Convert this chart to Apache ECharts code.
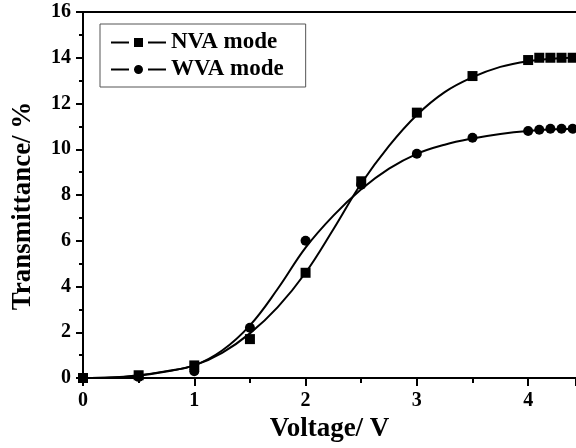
<!DOCTYPE html>
<html>
<head>
<meta charset="utf-8">
<style>
html, body { margin: 0; padding: 0; background: #fff; }
#chart { width: 576px; height: 448px; }
</style>
<script src="https://cdn.jsdelivr.net/npm/echarts@6/dist/echarts.min.js"></script>
</head>
<body>
<div id="chart"></div>
<script>
// measured points
var voltage = [0, 0.5, 1, 1.5, 2, 2.5, 3, 3.5, 4, 4.1, 4.2, 4.3, 4.4];
var nvaT = [0, 0.12, 0.55, 1.7, 4.6, 8.6, 11.6, 13.2, 13.9, 14.0, 14.0, 14.0, 14.0];
var wvaT = [0, 0.05, 0.3, 2.2, 6.0, 8.45, 9.8, 10.5, 10.8, 10.85, 10.9, 10.9, 10.9];

// fitted curves
var fitV = [0, 0.25, 0.5, 0.75, 1, 1.25, 1.5, 1.75, 2, 2.25, 2.5, 2.75, 3, 3.25, 3.5, 3.75, 4, 4.25, 4.5];
var nvaFit = [0, 0.02, 0.1, 0.28, 0.55, 1.1, 1.95, 3.1, 4.6, 6.5, 8.5, 10.15, 11.5, 12.5, 13.15, 13.6, 13.85, 13.97, 14.02];
var wvaFit = [0, 0.02, 0.12, 0.3, 0.55, 1.2, 2.3, 3.9, 5.7, 7.1, 8.25, 9.15, 9.8, 10.2, 10.47, 10.67, 10.8, 10.87, 10.9];

var names = ['NVA mode', 'WVA mode'];

function pairs(xs, ys) {
	return xs.map(function (x, i) { return [x, ys[i]]; });
}

var serif = '"Liberation Serif", "Times New Roman", serif';
var iconSquare = 'path://M0,3.5h18v2h-18z M23,0h9v9h-9z M37,3.5h18v2h-18z';
var iconCircle = 'path://M0,3.5h18v2h-18z M23,4.5a4.5,4.5 0 1,0 9,0a4.5,4.5 0 1,0 -9,0z M37,3.5h18v2h-18z';

var chart = echarts.init(document.getElementById('chart'));

var option = {
	animation: false,
	backgroundColor: '#fff',
	grid: {
		left: 83,
		right: 0,
		top: 12,
		bottom: 68
	},
	legend: {
		left: 100,
		top: 24,
		orient: 'vertical',
		itemWidth: 55,
		itemHeight: 9,
		itemGap: 4,
		padding: [7, 22, 6, 11],
		borderColor: '#555',
		borderWidth: 1,
		itemStyle: { color: '#000', opacity: 1 },
		textStyle: {
			fontFamily: serif,
			fontWeight: 'bold',
			fontSize: 23,
			color: '#000'
		},
		data: [
			{ name: names[0], icon: iconSquare },
			{ name: names[1], icon: iconCircle }
		]
	},
	xAxis: [{
		type: 'value',
		min: 0,
		max: 4.43,
		interval: 1,
		position: 'bottom',
		name: 'Voltage/ V',
		nameLocation: 'middle',
		nameGap: 38,
		nameTextStyle: {
			fontFamily: serif,
			fontWeight: 'bold',
			fontSize: 27,
			color: '#000'
		},
		axisLine: { lineStyle: { color: '#000', width: 2 } },
		axisTick: { inside: false, length: 8, lineStyle: { color: '#000', width: 2 } },
		minorTick: { show: true, splitNumber: 2, length: 5, lineStyle: { color: '#000', width: 2 } },
		axisLabel: {
			margin: 13,
			showMaxLabel: false,
			fontFamily: serif,
			fontWeight: 'bold',
			fontSize: 20,
			color: '#000'
		},
		splitLine: { show: false }
	}, {
		// top frame line
		type: 'value',
		min: 0,
		max: 4.43,
		position: 'top',
		axisLine: { onZero: false, lineStyle: { color: '#000', width: 2 } },
		axisTick: { show: false },
		axisLabel: { show: false },
		splitLine: { show: false }
	}],
	yAxis: {
		type: 'value',
		min: 0,
		max: 16,
		interval: 2,
		name: 'Transmittance/ %',
		nameLocation: 'middle',
		nameGap: 46,
		nameTextStyle: {
			fontFamily: serif,
			fontWeight: 'bold',
			fontSize: 27,
			color: '#000',
			padding: [0, 22, 0, 0]
		},
		axisLine: { show: true, lineStyle: { color: '#000', width: 2 } },
		axisTick: { inside: false, length: 7, lineStyle: { color: '#000', width: 2 } },
		minorTick: { show: true, splitNumber: 2, length: 4, lineStyle: { color: '#000', width: 2 } },
		axisLabel: {
			margin: 12,
			fontFamily: serif,
			fontWeight: 'bold',
			fontSize: 20,
			color: '#000'
		},
		splitLine: { show: false }
	},
	series: [{
		name: names[0],
		type: 'scatter',
		symbol: 'rect',
		symbolSize: 10,
		itemStyle: { color: '#000', opacity: 1 },
		data: pairs(voltage, nvaT),
		z: 3
	}, {
		name: names[1],
		type: 'scatter',
		symbol: 'circle',
		symbolSize: 10,
		itemStyle: { color: '#000', opacity: 1 },
		data: pairs(voltage, wvaT),
		z: 3
	}, {
		name: 'NVA fit',
		type: 'line',
		smooth: 0.4,
		showSymbol: false,
		lineStyle: { color: '#000', width: 2 },
		itemStyle: { color: '#000' },
		data: pairs(fitV, nvaFit)
	}, {
		name: 'WVA fit',
		type: 'line',
		smooth: 0.4,
		showSymbol: false,
		lineStyle: { color: '#000', width: 2 },
		itemStyle: { color: '#000' },
		data: pairs(fitV, wvaFit)
	}]
};

chart.setOption(option);

window.addEventListener('resize', function () {
	chart.resize();
});
</script>
</body>
</html>
